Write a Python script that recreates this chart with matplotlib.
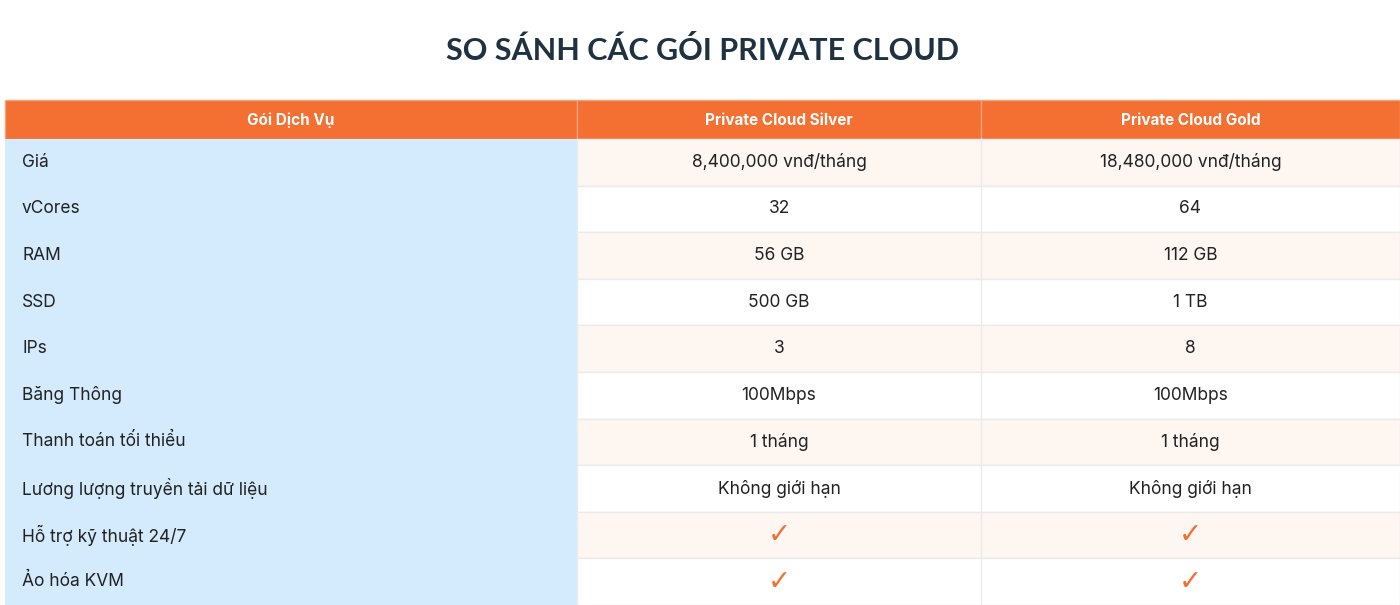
import matplotlib
matplotlib.use("Agg")
import matplotlib.pyplot as plt
from matplotlib.patches import Rectangle

# table content
title = "SO SÁNH CÁC GÓI PRIVATE CLOUD"
headers = ["Gói Dịch Vụ", "Private Cloud Silver", "Private Cloud Gold"]
features = ["Giá", "vCores", "RAM", "SSD", "IPs", "Băng Thông",
            "Thanh toán tối thiểu", "Lương lượng truyền tải dữ liệu",
            "Hỗ trợ kỹ thuật 24/7", "Ảo hóa KVM"]
silver = ["8,400,000 vnđ/tháng", "32", "56 GB", "500 GB", "3", "100Mbps",
          "1 tháng", "Không giới hạn", "✓", "✓"]
gold = ["18,480,000 vnđ/tháng", "64", "112 GB", "1 TB", "8", "100Mbps",
        "1 tháng", "Không giới hạn", "✓", "✓"]

ORANGE = "#f36f32"
BLUE = "#d3ebfc"
CREAM = "#fdf6f1"
GRID = "#ebebeb"
DARK = "#1f3242"

W, H = 1400, 605
col_x = [5, 577, 981, 1400]
head_top, head_bot = 100, 139
row_h = (H - head_bot) / len(features)

fig = plt.figure(figsize=(W / 100, H / 100), dpi=100)
ax = fig.add_axes([0, 0, 1, 1])
ax.set_xlim(0, W)
ax.set_ylim(H, 0)
ax.axis("off")

ax.text(W / 2 + 2, 50, title, ha="center", va="center", fontsize=22,
        fontweight="bold", color=DARK, family="Lato")

# header
for i, h in enumerate(headers):
    x0, x1 = col_x[i], col_x[i + 1]
    ax.add_patch(Rectangle((x0, head_top), x1 - x0, head_bot - head_top,
                           facecolor=ORANGE, edgecolor="#f7a27a", lw=1))
    ax.text((x0 + x1) / 2, (head_top + head_bot) / 2 + 1, h, ha="center",
            va="center", fontsize=11, fontweight="bold", color="white",
            family="Inter")

# left column background
ax.add_patch(Rectangle((col_x[0], head_bot), col_x[1] - col_x[0], H - head_bot,
                       facecolor=BLUE, edgecolor="none"))

for r, (f, s, g) in enumerate(zip(features, silver, gold)):
    y0 = head_bot + r * row_h
    yc = y0 + row_h / 2
    bg = CREAM if r % 2 == 0 else "white"
    ax.add_patch(Rectangle((col_x[1], y0), col_x[3] - col_x[1], row_h,
                           facecolor=bg, edgecolor=GRID, lw=1))
    ax.plot([col_x[2], col_x[2]], [y0, y0 + row_h], color=GRID, lw=1)
    ax.text(22, yc, f, ha="left", va="center", fontsize=12.5, color="#222222",
            family="Inter")
    for i, v in enumerate([s, g]):
        xc = (col_x[i + 1] + col_x[i + 2]) / 2
        if v == "✓":
            ax.text(xc, yc, v, ha="center", va="center", fontsize=20,
                    fontweight="bold", color=ORANGE, family="DejaVu Sans")
        else:
            ax.text(xc, yc, v, ha="center", va="center", fontsize=12.5,
                    color="#222222", family="Inter")

fig.savefig("out.png", dpi=100)
plt.close(fig)
